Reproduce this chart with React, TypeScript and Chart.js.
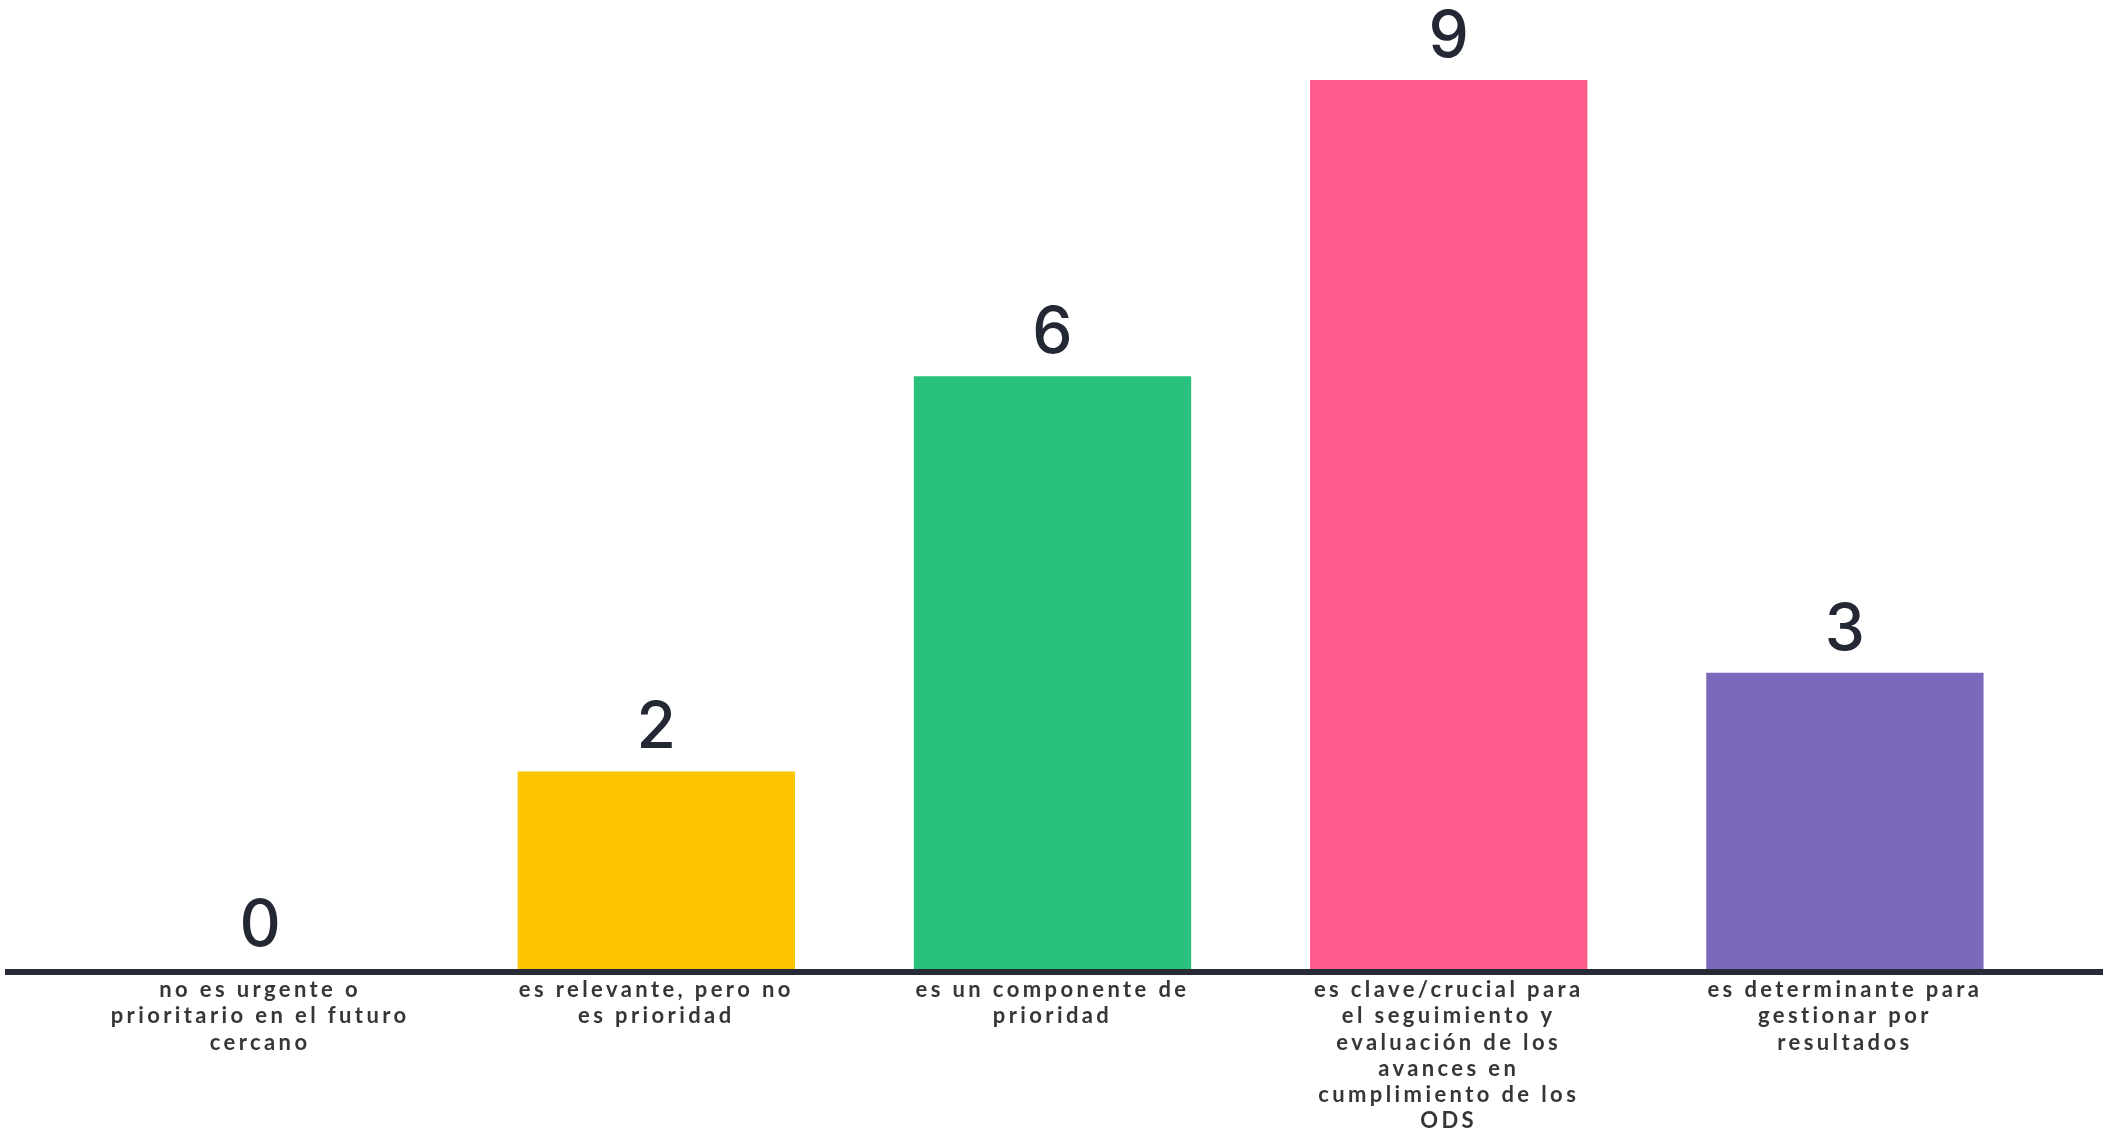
import React, { useEffect, useRef } from 'react';
import { Chart, registerables } from 'chart.js';

Chart.register(...registerables);

const categories: string[][] = [
  ['no es urgente o', 'prioritario en el futuro', 'cercano'],
  ['es relevante, pero no', 'es prioridad'],
  ['es un componente de', 'prioridad'],
  ['es clave/crucial para', 'el seguimiento y', 'evaluación de los', 'avances en', 'cumplimiento de los', 'ODS'],
  ['es determinante para', 'gestionar por', 'resultados'],
];
const values: number[] = [0, 2, 6, 9, 3];
const barColors: string[] = ['#3FA9F5', '#FDC400', '#29C17C', '#FF5A8C', '#7D69BC'];

const W = 2105;
const H = 1134;

const decorPlugin = {
  id: 'decor',
  beforeDraw(chart: any) {
    (chart.ctx as any).letterSpacing = '3.4px';
  },
  afterDatasetsDraw(chart: any) {
    const ctx = chart.ctx;
    const yScale = chart.scales.y;
    const y0 = yScale.getPixelForValue(0);
    ctx.save();
    (ctx as any).letterSpacing = '0px';
    ctx.fillStyle = '#262b35';
    ctx.fillRect(5, y0, chart.width - 7, 6);
    const meta = chart.getDatasetMeta(0);
    ctx.font = '500 64px Inter, Lato, sans-serif';
    ctx.textAlign = 'center';
    ctx.textBaseline = 'alphabetic';
    ctx.fillStyle = '#232834';
    meta.data.forEach((bar: any, i: number) => {
      ctx.fillText(String(values[i]), bar.x, bar.y - 23);
    });
    ctx.restore();
  },
  afterDraw(chart: any) {
    (chart.ctx as any).letterSpacing = '0px';
  },
};

export default function App() {
  const ref = useRef<HTMLCanvasElement | null>(null);
  useEffect(() => {
    document.body.style.margin = '0';
    const canvas = ref.current;
    if (!canvas) return;
    const chart = new Chart(canvas, {
      type: 'bar',
      data: {
        labels: categories as any,
        datasets: [
          {
            data: values,
            backgroundColor: barColors,
            borderWidth: 0,
            barPercentage: 0.7,
            categoryPercentage: 1,
          },
        ],
      },
      options: {
        animation: false,
        responsive: false,
        maintainAspectRatio: false,
        devicePixelRatio: 1,
        layout: { padding: { left: 62, right: 62, top: 0, bottom: 0 } },
        plugins: { legend: { display: false }, tooltip: { enabled: false } },
        scales: {
          x: {
            grid: { display: false, drawTicks: false },
            border: { display: false },
            ticks: {
              color: '#363636',
              font: { family: 'Lato, sans-serif', size: 22, weight: 'bold', lineHeight: 1.19 },
              padding: 8,
              maxRotation: 0,
              minRotation: 0,
              autoSkip: false,
            },
            afterFit: (s: any) => {
              s.height = H - 969;
            },
          },
          y: { display: false, min: 0, max: 9.81 },
        },
      },
      plugins: [decorPlugin],
    });
    return () => chart.destroy();
  }, []);
  return (
    <div style={{ position: 'fixed', left: 0, top: 0, width: W, height: H, background: '#fff' }}>
      <canvas ref={ref} width={W} height={H} style={{ width: W, height: H, display: 'block' }} />
    </div>
  );
}
